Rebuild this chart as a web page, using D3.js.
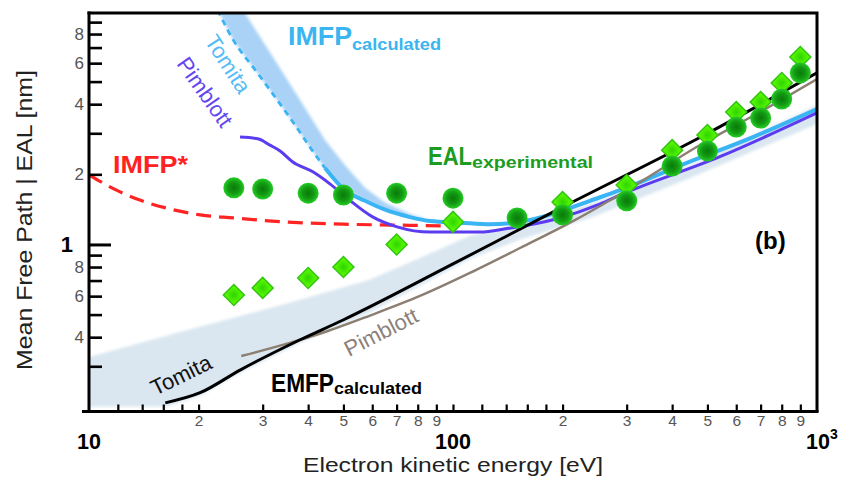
<!DOCTYPE html>
<html><head><meta charset="utf-8">
<script src="https://cdn.jsdelivr.net/npm/d3@7"></script>
<style>body{margin:0;background:#fff}svg{font-family:"Liberation Sans",Arial,sans-serif}</style>
</head><body>
<svg id="c" width="843" height="477"></svg>
<script>
// ---- data (energy in eV, lengths in nm) ----
const ealEnergyCircles = [25,30,40,50,70,100,150,200,300,400,500,600,700,800,900];
const ealCircles       = [1.75,1.73,1.66,1.63,1.66,1.58,1.30,1.34,1.54,2.17,2.52,3.19,3.49,4.21,5.45];
const ealEnergyDiamonds= [25,30,40,50,70,100,200,300,400,500,600,700,800,900];
const ealDiamonds      = [0.607,0.651,0.718,0.80,1.0,1.25,1.52,1.80,2.54,2.95,3.70,4.09,4.93,6.38];

const imfpStarE = [10,11.9,13.8,16.4,20.2,24.9,34.1,52.1,71.5,101];
const imfpStarV = [1.99,1.71,1.55,1.43,1.34,1.30,1.25,1.22,1.21,1.20];

const tomitaImfpE = [21.9,24.9,28.9,32.9,36.8,41.0,44.5,50.5,57.3,65.1,76.2,86.5,104.5,126.4,152.8,193,238,287.6,439,667,1000];
const tomitaImfpV = [11.2,7.55,5.50,4.17,3.26,2.54,2.13,1.71,1.54,1.41,1.31,1.26,1.24,1.22,1.25,1.37,1.54,1.71,2.24,2.89,3.81];
const tomitaImfpDashedUntil = 44.5;
const tomitaBandUpperE = [25.2,26.8,32.4,38.0,44.5,50.5,57.3,65.1,76.2,86.5];
const tomitaBandUpperV = [11.8,9.85,6.19,4.17,2.81,2.19,1.75,1.51,1.35,1.27];

const pimblottImfpE = [26.0,29.1,31.4,33.5,36.3,41.2,45.9,51.2,60.3,70.2,86.5,118.7,140.7,193,253,287.6,541,1000];
const pimblottImfpV = [2.89,2.84,2.67,2.52,2.26,2.05,1.82,1.58,1.31,1.19,1.13,1.13,1.17,1.29,1.49,1.63,2.38,3.67];

const tomitaEmfpE = [16.2,20.2,26.0,37.9,49.9,100,198,497,1000];
const tomitaEmfpV = [0.209,0.231,0.289,0.389,0.474,0.825,1.435,2.98,5.45];

const pimblottEmfpE = [26.2,35.6,44.5,58.7,81.1,111.3,152.8,213.6,300.7,477,697,1000];
const pimblottEmfpV = [0.332,0.378,0.421,0.493,0.601,0.755,0.966,1.26,1.71,2.67,3.70,5.13];

const emfpBandUpperE = [10,18.8,35.4,58.8,81.2,111.3,152.8,238,448,1000];
const emfpBandUpperV = [0.329,0.430,0.561,0.704,0.875,1.09,1.22,1.49,2.19,3.97];
const emfpBandLowerE = [10,16.3,20.2,26.0,37.9,58.8,111.3,152.8,238,448,1000];
const emfpBandLowerV = [0.201,0.201,0.224,0.281,0.378,0.508,0.866,1.05,1.30,1.93,3.29];

const xMinorTicks = [12,14,16,18,20,30,40,50,60,70,80,90,100,120,140,160,180,200,300,400,500,600,700,800,900];
const xMinorLabels = {20:"2",30:"3",40:"4",50:"5",60:"6",70:"7",80:"8",90:"9",200:"2",300:"3",400:"4",500:"5",600:"6",700:"7",800:"8",900:"9"};
const yTicks = [0.3,0.4,0.5,0.6,0.7,0.8,0.9,1,2,3,4,5,6,7,8,9];
const yLabels = {0.4:"4",0.6:"6",0.8:"8",1:"1",2:"2",4:"4",6:"6",8:"8"};

// ---- scales ----
const x = d3.scaleLog().domain([10,1000]).range([89,817]);
const y = d3.scaleLog().domain([0.19,9.85]).range([412.5,13]);
const zip = (E,V)=>E.map((e,i)=>[e,V[i]]);

const svg = d3.select('#c');
const defs = svg.append('defs');
defs.append('clipPath').attr('id','clip').append('rect')
  .attr('x',89).attr('y',13).attr('width',728).attr('height',398.5);
defs.append('filter').attr('id','soft').append('feGaussianBlur').attr('stdDeviation',1.6);
const gc = defs.append('radialGradient').attr('id','gc');
gc.append('stop').attr('offset','0%').attr('stop-color','#0a7a0a');
gc.append('stop').attr('offset','55%').attr('stop-color','#129a12');
gc.append('stop').attr('offset','100%').attr('stop-color','#26cc26');
const gd = defs.append('radialGradient').attr('id','gd');
gd.append('stop').attr('offset','0%').attr('stop-color','#2ed400');
gd.append('stop').attr('offset','100%').attr('stop-color','#55f500');

const line = d3.line().x(d=>x(d[0])).y(d=>y(d[1])).curve(d3.curveMonotoneX);
const poly = d3.line().x(d=>x(d[0])).y(d=>y(d[1])).curve(d3.curveLinearClosed);

const plot = svg.append('g').attr('clip-path','url(#clip)');

// bands
const emfpPoly = zip(emfpBandUpperE,emfpBandUpperV).concat(zip(emfpBandLowerE,emfpBandLowerV).reverse());
plot.append('path').attr('d',poly(emfpPoly)).attr('fill','#d6e4ef').attr('opacity',0.9).attr('filter','url(#soft)');

const tomitaLower = zip(tomitaImfpE,tomitaImfpV).filter(d=>d[0]<=86.5);
const tomitaPoly = zip(tomitaBandUpperE,tomitaBandUpperV).concat(tomitaLower.reverse());
plot.append('path').attr('d',poly(tomitaPoly)).attr('fill','#a9d2f6').attr('filter','url(#soft)');

// curves
plot.append('path').attr('d',line(zip(imfpStarE,imfpStarV)))
  .attr('fill','none').attr('stroke','#ff2424').attr('stroke-width',3.2).attr('stroke-dasharray','15,8');

const tomitaAll = zip(tomitaImfpE,tomitaImfpV);
plot.append('path').attr('d',line(tomitaAll.filter(d=>d[0]<=tomitaImfpDashedUntil)))
  .attr('fill','none').attr('stroke','#3ab4f2').attr('stroke-width',2.8).attr('stroke-dasharray','6,5');
plot.append('path').attr('d',line(tomitaAll.filter(d=>d[0]>=tomitaImfpDashedUntil)))
  .attr('fill','none').attr('stroke','#3ab4f2').attr('stroke-width',4);

plot.append('path').attr('d',line(zip(pimblottImfpE,pimblottImfpV)))
  .attr('fill','none').attr('stroke','#5b3cf0').attr('stroke-width',3);

plot.append('path').attr('d',line(zip(pimblottEmfpE,pimblottEmfpV)))
  .attr('fill','none').attr('stroke','#8c7f72').attr('stroke-width',2.4);

plot.append('path').attr('d',line(zip(tomitaEmfpE,tomitaEmfpV)))
  .attr('fill','none').attr('stroke','#000').attr('stroke-width',3);

// markers
const sym = d3.symbol().type(d3.symbolSquare).size(220);
plot.selectAll('path.dia').data(zip(ealEnergyDiamonds,ealDiamonds)).join('path').attr('class','dia')
  .attr('d',sym).attr('transform',d=>`translate(${x(d[0])},${y(d[1])}) rotate(45)`)
  .attr('fill','url(#gd)').attr('stroke','#34c414').attr('stroke-width',1.5);
plot.selectAll('circle.cir').data(zip(ealEnergyCircles,ealCircles)).join('circle').attr('class','cir')
  .attr('cx',d=>x(d[0])).attr('cy',d=>y(d[1])).attr('r',10.5).attr('fill','url(#gc)');

// axes
const xAxis = d3.axisBottom(x).tickValues(xMinorTicks).tickSize(-7).tickSizeOuter(0).tickPadding(3)
  .tickFormat(d=>xMinorLabels[d]||"");
const gx = svg.append('g').attr('transform','translate(0,411.5)').call(xAxis);
gx.select('.domain').attr('stroke','#000').attr('stroke-width',3).attr('d','M82,0H818.5');
gx.selectAll('.tick line').attr('stroke','#000').attr('stroke-width',2.2);
gx.selectAll('.tick text').attr('fill','#555').attr('font-size',15.5).attr('font-family','"Liberation Sans",Arial,sans-serif');

const yAxis = d3.axisLeft(y).tickValues(yTicks).tickSize(-13).tickSizeOuter(0).tickPadding(5)
  .tickFormat(d=>yLabels[d]||"");
const gy = svg.append('g').attr('transform','translate(89,0)').call(yAxis);
gy.select('.domain').attr('stroke','#000').attr('stroke-width',3).attr('d','M0,11.5V413');
gy.selectAll('.tick line').attr('stroke','#000').attr('stroke-width',2.6);
gy.selectAll('.tick text').attr('fill','#555').attr('font-size',17).attr('font-family','"Liberation Sans",Arial,sans-serif');
gy.selectAll('.tick').filter(d=>d===1).each(function(){
  const t=d3.select(this);
  t.select('line').attr('x2',22).attr('stroke-width',3);
  t.select('text').attr('fill','#000').attr('font-size',22).attr('font-weight','bold').attr('x',-16);
});

// frame top/right
svg.append('path').attr('d','M87.5,13H817V412').attr('fill','none').attr('stroke','#000').attr('stroke-width',3);

// major decade labels
const big = svg.append('g').attr('font-weight','bold').attr('font-size',21.5).attr('fill','#000');
big.append('text').attr('x',x(10)).attr('y',448.5).attr('text-anchor','middle').text('10');
big.append('text').attr('x',x(100)).attr('y',448.5).attr('text-anchor','middle').text('100');
const t3 = big.append('text').attr('x',x(1000)-11).attr('y',448.5);
t3.append('tspan').text('10');
t3.append('tspan').attr('font-size',14).attr('dy',-10).text('3');

// axis titles
svg.append('text').attr('x',453).attr('y',471.5).attr('text-anchor','middle').attr('font-size',20)
  .attr('fill','#222').attr('textLength',300).attr('lengthAdjust','spacingAndGlyphs').text('Electron kinetic energy [eV]');
svg.append('text').attr('transform','translate(32,220) rotate(-90)').attr('text-anchor','middle').attr('font-size',22)
  .attr('fill','#222').attr('textLength',300).attr('lengthAdjust','spacingAndGlyphs').text('Mean Free Path | EAL [nm]');

// annotations
const ann = svg.append('g');
const imfpT = ann.append('text').attr('x',288).attr('y',45).attr('fill','#3bb5f0').attr('font-weight','bold').attr('font-size',25);
imfpT.append('tspan').attr('textLength',64).attr('lengthAdjust','spacingAndGlyphs').text('IMFP');
imfpT.append('tspan').attr('font-size',17).attr('dy',5).attr('textLength',89).attr('lengthAdjust','spacingAndGlyphs').text('calculated');

const ealT = ann.append('text').attr('x',428).attr('y',165).attr('fill','#1c9c22').attr('font-weight','bold').attr('font-size',25);
ealT.append('tspan').attr('textLength',44).attr('lengthAdjust','spacingAndGlyphs').text('EAL');
ealT.append('tspan').attr('font-size',17).attr('dy',3).attr('textLength',121).attr('lengthAdjust','spacingAndGlyphs').text('experimental');

ann.append('text').attr('x',113).attr('y',173).attr('fill','#ff2222').attr('font-weight','bold').attr('font-size',24)
  .attr('textLength',75).attr('lengthAdjust','spacingAndGlyphs').text('IMFP*');

const emfpT = ann.append('text').attr('x',271).attr('y',392).attr('fill','#000').attr('font-weight','bold').attr('font-size',25);
emfpT.append('tspan').attr('textLength',63).attr('lengthAdjust','spacingAndGlyphs').text('EMFP');
emfpT.append('tspan').attr('font-size',17).attr('dy',2).attr('textLength',88).attr('lengthAdjust','spacingAndGlyphs').text('calculated');

ann.append('text').attr('x',755).attr('y',249).attr('font-weight','bold').attr('font-size',24).text('(b)');

ann.append('text').attr('transform','translate(228,64) rotate(57)').attr('text-anchor','middle').attr('dy','0.35em')
  .attr('fill','#55bdf6').attr('font-size',22).text('Tomita');
ann.append('text').attr('transform','translate(205,92) rotate(55)').attr('text-anchor','middle').attr('dy','0.35em')
  .attr('fill','#6446f0').attr('font-size',22).text('Pimblott');
ann.append('text').attr('transform','translate(181,375) rotate(-26)').attr('text-anchor','middle').attr('dy','0.35em')
  .attr('fill','#111').attr('font-size',22).text('Tomita');
ann.append('text').attr('transform','translate(381,332) rotate(-27)').attr('text-anchor','middle').attr('dy','0.35em')
  .attr('fill','#8c8078').attr('font-size',22).text('Pimblott');
</script>
</body></html>
